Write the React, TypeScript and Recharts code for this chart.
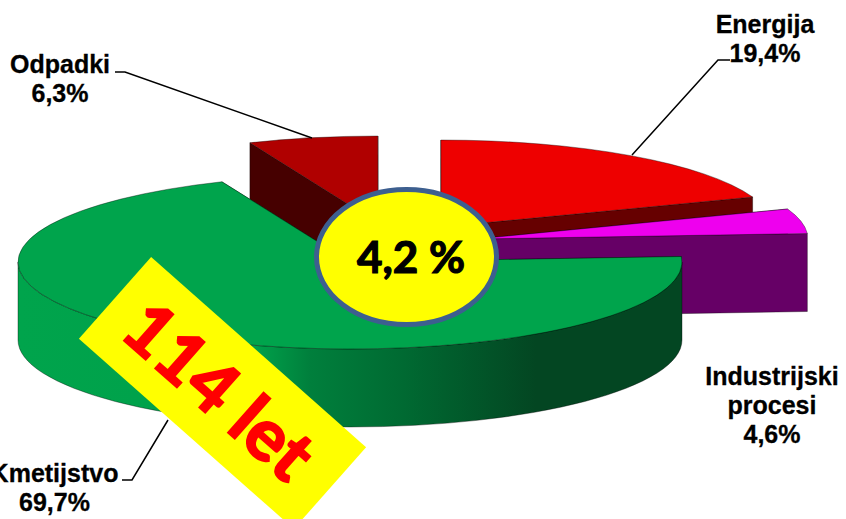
import { Pie, PieChart } from 'recharts'

// shares per sector, back sector first so the big front sector paints last
const sectorNames = ['Odpadki', 'Energija', 'Industrijski procesi', 'Kmetijstvo']
const sectorShares = [6.3, 19.4, 4.6, 69.7]

const tableData = sectorNames.map((name, i) => ({ name, value: sectorShares[i] }))

const CHART_WIDTH = 846
const CHART_HEIGHT = 519
const TILT = 0.262
const DEPTH = 78

// how far each sector is pulled out of the pie, and its colours
const sectorStyles: Record<string, { dx: number; dy: number; top: string; wall: string }> = {
  Odpadki: { dx: 28, dy: -39, top: '#b00000', wall: '#460000' },
  Energija: { dx: 91, dy: -35, top: '#ee0000', wall: '#660000' },
  'Industrijski procesi': { dx: 126, dy: -23, top: '#ee00ee', wall: '#660066' },
  Kmetijstvo: { dx: 0, dy: 0, top: '#00a44c', wall: 'url(#greenWall)' },
}

const labelFont = {
  fontFamily: '"Liberation Sans", Arial, sans-serif',
  fontWeight: 700,
  fontSize: 25,
  fill: '#000',
  stroke: '#000',
  strokeWidth: 0.3,
}
const calloutFont = { fontFamily: 'Lato, sans-serif', fontWeight: 700 }

function Sector3D(props: any) {
  const { cx, cy, outerRadius, startAngle, endAngle, payload } = props
  const style = sectorStyles[payload.name]
  const ox = cx + style.dx
  const oy = cy + style.dy
  const rx = outerRadius
  const ry = outerRadius * TILT

  const at = (angle: number, drop = 0) => {
    const rad = (angle * Math.PI) / 180
    return `${ox + rx * Math.cos(rad)} ${oy - ry * Math.sin(rad) + drop}`
  }
  const large = startAngle - endAngle > 180 ? 1 : 0
  const topPath = `M ${ox} ${oy} L ${at(startAngle)} A ${rx} ${ry} 0 ${large} 1 ${at(endAngle)} Z`
  const cut = (angle: number) =>
    `M ${ox} ${oy} L ${at(angle)} L ${at(angle, DEPTH)} L ${ox} ${oy + DEPTH} Z`

  // rim is only visible on the front half of the ellipse
  const rimFrom = Math.min(startAngle, 0)
  const rimTo = Math.max(endAngle, -180)
  const rimPath =
    rimFrom > rimTo
      ? `M ${at(rimFrom)} A ${rx} ${ry} 0 0 1 ${at(rimTo)} L ${at(rimTo, DEPTH)} A ${rx} ${ry} 0 0 0 ${at(rimFrom, DEPTH)} Z`
      : null

  return (
    <g>
      <path d={cut(startAngle)} fill={style.wall} stroke="#000" strokeOpacity={0.45} strokeWidth={0.8} />
      <path d={cut(endAngle)} fill={style.wall} stroke="#000" strokeOpacity={0.45} strokeWidth={0.8} />
      {rimPath && <path d={rimPath} fill={style.wall} stroke="#000" strokeOpacity={0.45} strokeWidth={0.8} />}
      <path d={topPath} fill={style.top} stroke="#000" strokeOpacity={0.45} strokeWidth={0.8} />
    </g>
  )
}

function Leader({ points }: { points: string }) {
  return <polyline points={points} fill="none" stroke="#000" strokeWidth={1.5} />
}

function SliceLabel({ x, y, lines }: { x: number; y: number; lines: string[] }) {
  return (
    <text x={x} y={y} textAnchor="middle" {...labelFont}>
      {lines.map((line, i) => (
        <tspan key={line} x={x} dy={i === 0 ? 0 : 29}>
          {line}
        </tspan>
      ))}
    </text>
  )
}

export default function App() {
  return (
    <div style={{ position: 'absolute', left: 0, top: 0, width: CHART_WIDTH, height: CHART_HEIGHT, background: '#fff' }}>
      <PieChart width={CHART_WIDTH} height={CHART_HEIGHT} margin={{ top: 0, right: 0, bottom: 0, left: 0 }}>
        <defs>
          <linearGradient id="greenWall" gradientUnits="userSpaceOnUse" x1="18" y1="0" x2="682" y2="0">
            <stop offset="0" stopColor="#00a44c" />
            <stop offset="0.36" stopColor="#00a04a" />
            <stop offset="0.44" stopColor="#007f3c" />
            <stop offset="0.58" stopColor="#006a32" />
            <stop offset="0.78" stopColor="#034622" />
            <stop offset="1" stopColor="#034622" />
          </linearGradient>
        </defs>
        <Pie
          data={tableData}
          dataKey="value"
          nameKey="name"
          cx={350}
          cy={262}
          outerRadius={332}
          startAngle={112.7}
          endAngle={-247.3}
          stroke="none"
          shape={Sector3D}
          isAnimationActive={false}
        />
      </PieChart>

      {/* callouts and slice labels sit above the pie */}
      <svg width={CHART_WIDTH} height={CHART_HEIGHT} style={{ position: 'absolute', left: 0, top: 0 }}>
        <Leader points="115,72 125,72 312,138" />
        <Leader points="730,60 718,60 632,155" />
        <Leader points="122,480 132,480 168,420" />

        <ellipse cx={406.5} cy={257} rx={90} ry={67.5} fill="#ffff00" stroke="#3d5f8f" strokeWidth={5} />
        <text x={411} y={273} textAnchor="middle" fontSize={44} {...calloutFont} fill="#000" stroke="#000" strokeWidth={1.2}>
          4,2 %
        </text>

        <g transform="translate(222.5 393) rotate(41.5)">
          <rect x={-143.5} y={-54.5} width={287} height={109} fill="#ffff00" />
          <text x={-4} y={26} textAnchor="middle" fontSize={72} {...calloutFont} fill="#ff0000" stroke="#ff0000" strokeWidth={2}>
            114 let
          </text>
        </g>

        <SliceLabel x={765} y={33} lines={['Energija', '19,4%']} />
        <SliceLabel x={60} y={73} lines={['Odpadki', '6,3%']} />
        <SliceLabel x={772} y={385} lines={['Industrijski', 'procesi', '4,6%']} />
        <SliceLabel x={54.5} y={482} lines={['Kmetijstvo', '69,7%']} />
      </svg>
    </div>
  )
}
